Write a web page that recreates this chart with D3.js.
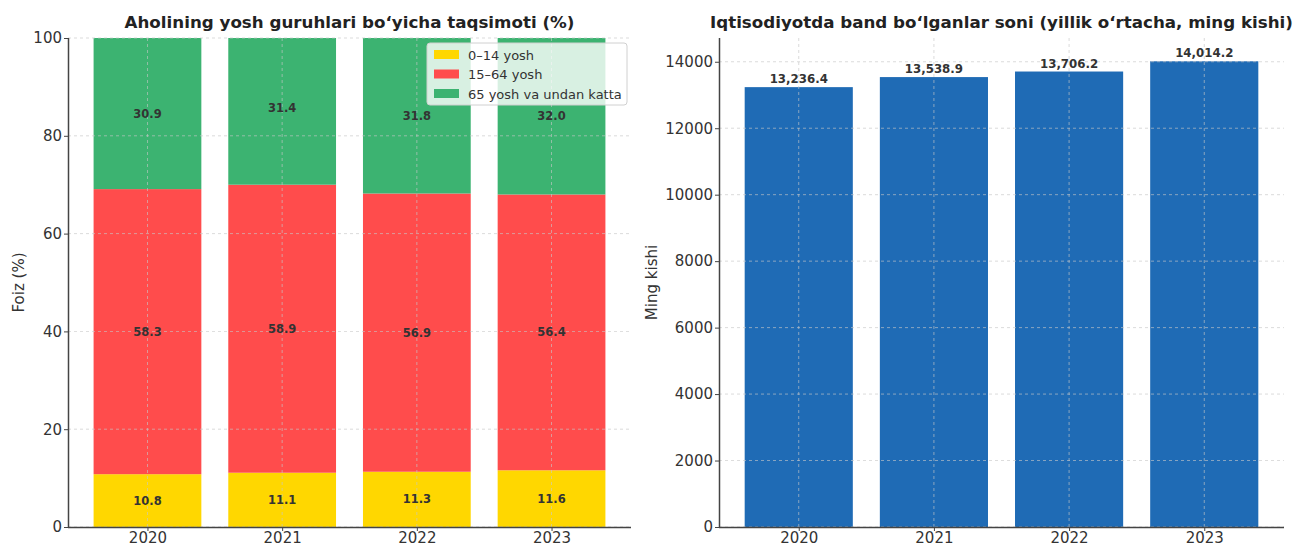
<!DOCTYPE html>
<html>
<head>
<meta charset="utf-8">
<script src="https://cdn.jsdelivr.net/npm/d3@7"></script>
<style>
  body { margin: 0; background: #fff; }
  svg text { font-family: "DejaVu Sans", sans-serif; fill: #333; }
  .axis path, .axis line { stroke: #444; }
  .axis text { font-size: 15px; fill: #333; }
  .grid line { stroke: #c8c8c8; stroke-dasharray: 3,3; stroke-width: 0.8; opacity: 0.8; }
  .grid path { display: none; }
</style>
</head>
<body>
<div id="chart"></div>
<script>
// data
var years = ["2020", "2021", "2022", "2023"];
var age0_14 = [10.8, 11.1, 11.3, 11.6];
var age15_64 = [58.3, 58.9, 56.9, 56.4];
var age65 = [30.9, 31.4, 31.8, 32.0];
var ageNames = ["0–14 yosh", "15–64 yosh", "65 yosh va undan katta"];
var ageColors = ["#FFD700", "#FF4C4C", "#3CB371"];
var employed = [13236.4, 13538.9, 13706.2, 14014.2];
var pctTicks = [0, 20, 40, 60, 80, 100];
var empTicks = [0, 2000, 4000, 6000, 8000, 10000, 12000, 14000];

var W = 1297, H = 545;
var top_ = 38, bottom = 527;

var svg = d3.select("#chart").append("svg")
  .attr("width", W).attr("height", H);

// linear x like matplotlib: bar width 0.8, 5% margins
function xBand(x0, x1) {
  var n = years.length;
  var lo = -0.4, hi = n - 1 + 0.4;
  var pad = (hi - lo) * 0.05;
  return d3.scaleLinear().domain([lo - pad, hi + pad]).range([x0, x1]);
}

function drawAxes(g, x, y, yTicks, x0, x1) {
  g.append("g").attr("class", "axis")
    .attr("transform", "translate(0," + bottom + ")")
    .call(d3.axisBottom(x).tickValues(d3.range(years.length))
      .tickFormat(function(i) { return years[i]; }).tickSizeOuter(0).tickSize(4).tickPadding(1))
    .call(function(a) { a.select(".domain").attr("d", "M" + x0 + ",0.5H" + x1).style("stroke-width", 1.5); });
  g.append("g").attr("class", "axis")
    .attr("transform", "translate(" + x0 + ",0)")
    .call(d3.axisLeft(y).tickValues(yTicks).tickFormat(d3.format("d")).tickSizeOuter(0).tickSize(4).tickPadding(2))
    .call(function(a) { a.select(".domain").attr("d", "M0.5," + top_ + "V" + bottom).style("stroke-width", 1.5); });
}

function drawGrid(g, x, y, yTicks, x0, x1) {
  g.append("g").attr("class", "grid")
    .selectAll("line").data(yTicks).enter().append("line")
    .attr("x1", x0).attr("x2", x1)
    .attr("y1", function(d) { return y(d); }).attr("y2", function(d) { return y(d); });
  g.append("g").attr("class", "grid")
    .selectAll("line").data(d3.range(years.length)).enter().append("line")
    .attr("y1", top_).attr("y2", bottom)
    .attr("x1", function(d) { return x(d); }).attr("x2", function(d) { return x(d); });
}

// ---------- left chart ----------
var Lx0 = 68, Lx1 = 631;
var xL = xBand(Lx0, Lx1);
var yL = d3.scaleLinear().domain([0, 100]).range([bottom, top_]);
var gL = svg.append("g");

svg.append("defs").append("clipPath").attr("id", "clipL")
  .append("rect").attr("x", Lx0).attr("y", top_).attr("width", Lx1 - Lx0).attr("height", bottom - top_);

var stackRows = years.map(function(yr, i) {
  return { i: i, a: age0_14[i], b: age15_64[i], c: age65[i] };
});
var stack = d3.stack().keys(["a", "b", "c"])(stackRows);
var bw = xL(0.4) - xL(-0.4);

var barsL = gL.append("g").attr("clip-path", "url(#clipL)");
stack.forEach(function(layer, k) {
  barsL.selectAll(null).data(layer).enter().append("rect")
    .attr("x", function(d) { return xL(d.data.i) - bw / 2; })
    .attr("width", bw)
    .attr("y", function(d) { return yL(d[1]); })
    .attr("height", function(d) { return yL(d[0]) - yL(d[1]); })
    .attr("fill", ageColors[k]);
});
drawGrid(gL, xL, yL, pctTicks, Lx0, Lx1);
stack.forEach(function(layer) {
  gL.selectAll(null).data(layer).enter().append("text")
    .attr("x", function(d) { return xL(d.data.i); })
    .attr("y", function(d) { return yL((d[0] + d[1]) / 2); })
    .attr("dy", "0.35em")
    .attr("text-anchor", "middle")
    .style("font-size", "11.5px").style("font-weight", "bold").style("fill", "#333")
    .text(function(d) { return (d[1] - d[0]).toFixed(1); });
});
drawAxes(gL, xL, yL, pctTicks, Lx0, Lx1);

gL.append("text").attr("x", (Lx0 + Lx1) / 2).attr("y", 28)
  .attr("text-anchor", "middle").style("font-size", "16.7px").style("font-weight", "bold")
  .style("fill", "#222")
  .text("Aholining yosh guruhlari bo‘yicha taqsimoti (%)");
gL.append("text").attr("transform", "translate(24," + ((top_ + bottom) / 2) + ") rotate(-90)")
  .attr("text-anchor", "middle").style("font-size", "15px")
  .text("Foiz (%)");

// legend
var lg = gL.append("g").attr("transform", "translate(427,43)");
lg.append("rect").attr("width", 200).attr("height", 62).attr("rx", 3)
  .attr("fill", "rgba(255,255,255,0.8)").attr("stroke", "#d0d0d0");
ageNames.forEach(function(n, k) {
  lg.append("rect").attr("x", 7).attr("y", 7 + k * 19.5).attr("width", 25).attr("height", 9)
    .attr("fill", ageColors[k]);
  lg.append("text").attr("x", 41).attr("y", 12 + k * 19.5).attr("dy", "0.35em")
    .style("font-size", "13px").text(n);
});

// ---------- right chart ----------
var Rx0 = 719, Rx1 = 1284;
var xR = xBand(Rx0, Rx1);
var yR = d3.scaleLinear().domain([0, d3.max(employed) * 1.05]).range([bottom, top_]);
var gR = svg.append("g");
var bwR = xR(0.4) - xR(-0.4);

gR.selectAll(null).data(employed).enter().append("rect")
  .attr("x", function(d, i) { return xR(i) - bwR / 2; })
  .attr("width", bwR)
  .attr("y", function(d) { return yR(d); })
  .attr("height", function(d) { return bottom - yR(d); })
  .attr("fill", "#1F6BB5");
drawGrid(gR, xR, yR, empTicks, Rx0, Rx1);
gR.selectAll(null).data(employed).enter().append("text")
  .attr("x", function(d, i) { return xR(i); })
  .attr("y", function(d) { return yR(d) - 4; })
  .attr("text-anchor", "middle")
  .style("font-size", "11.8px").style("font-weight", "bold").style("fill", "#333")
  .text(function(d) { return d3.format(",.1f")(d); });
drawAxes(gR, xR, yR, empTicks, Rx0, Rx1);

gR.append("text").attr("x", (Rx0 + Rx1) / 2).attr("y", 28)
  .attr("text-anchor", "middle").style("font-size", "16.7px").style("font-weight", "bold")
  .style("fill", "#222")
  .text("Iqtisodiyotda band bo‘lganlar soni (yillik o‘rtacha, ming kishi)");
gR.append("text").attr("transform", "translate(657," + ((top_ + bottom) / 2) + ") rotate(-90)")
  .attr("text-anchor", "middle").style("font-size", "15px")
  .text("Ming kishi");
</script>
</body>
</html>
